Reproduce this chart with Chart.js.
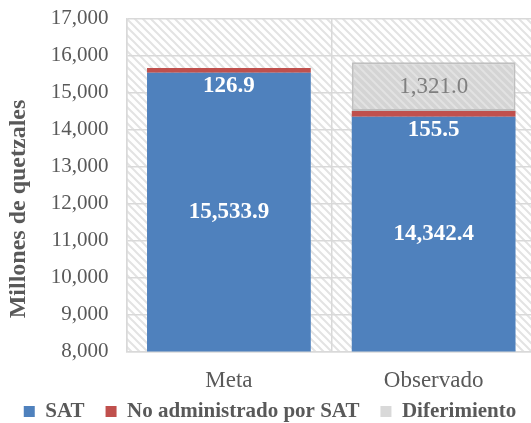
<!DOCTYPE html>
<html>
<head>
<meta charset="utf-8">
<script src="https://cdn.jsdelivr.net/npm/chart.js@4.4.1/dist/chart.umd.min.js"></script>
<style>
    html, body { margin: 0; padding: 0; overflow: hidden; background: #fff; }
    #wrap { position: absolute; left: 0; top: -12px; width: 536px; height: 444px; }
</style>
</head>
<body>
<div id="wrap"><canvas id="chart"></canvas></div>
<script>
const categories = ["Meta", "Observado"];
const satValues = [15533.9, 14342.4];
const noAdminValues = [126.9, 155.5];
const diferimientoValues = [null, 1321.0];
const seriesNames = ["SAT", "No administrado por SAT", "Diferimiento"];
const yMin = 8000;
const yMax = 17000;
const yStep = 1000;

const serif = "'Liberation Serif', 'Times New Roman', serif";
const textGray = '#595959';
const gridGray = '#d9d9d9';

function makeHatch(bg, line) {
    const c = document.createElement('canvas');
    c.width = 8;
    c.height = 8;
    const g = c.getContext('2d');
    g.fillStyle = bg;
    g.fillRect(0, 0, 8, 8);
    g.strokeStyle = line;
    g.lineWidth = 2;
    g.beginPath();
    g.moveTo(-2, -2); g.lineTo(10, 10);
    g.moveTo(-2, 6); g.lineTo(2, 10);
    g.moveTo(6, -2); g.lineTo(10, 2);
    g.stroke();
    return document.getElementById('chart').getContext('2d').createPattern(c, 'repeat');
}

const plotHatch = makeHatch('#ffffff', '#e3e3e3');
const diffHatch = makeHatch('#d4d4d4', '#e2e2e2');

function fmt1(v) {
    return v.toLocaleString('en-US', { minimumFractionDigits: 1, maximumFractionDigits: 1 });
}

// hatched plot background, drawn before the grid
const plotBackground = {
    id: 'plotBackground',
    beforeDraw(chart) {
        const { ctx, chartArea } = chart;
        ctx.save();
        ctx.fillStyle = '#fff';
        ctx.fillRect(0, 0, chart.width, chart.height);
        ctx.fillStyle = plotHatch;
        ctx.fillRect(chartArea.left, chartArea.top, chartArea.right - chartArea.left, chartArea.bottom - chartArea.top);
        ctx.restore();
    }
};

// value labels inside the bars
const barLabels = {
    id: 'barLabels',
    afterDatasetsDraw(chart) {
        const { ctx, chartArea } = chart;
        ctx.save();
        ctx.textAlign = 'center';
        ctx.textBaseline = 'middle';
        chart.data.datasets.forEach((ds, i) => {
            const meta = chart.getDatasetMeta(i);
            meta.data.forEach((bar, j) => {
                const v = ds.data[j];
                if (v == null) return;
                let y;
                if (i === 0) {
                    y = (Math.min(bar.base, chartArea.bottom) + bar.y) / 2;
                } else if (i === 1) {
                    y = bar.base + 13;
                } else {
                    y = (bar.base + bar.y) / 2;
                }
                ctx.font = i === 2 ? `23px ${serif}` : `bold 23px ${serif}`;
                ctx.fillStyle = i === 2 ? '#7f7f7f' : '#ffffff';
                ctx.fillText(fmt1(v), bar.x, y);
            });
        });
        ctx.restore();
    }
};

new Chart(document.getElementById('chart'), {
    type: 'bar',
    data: {
        labels: categories,
        datasets: [
            {
                label: seriesNames[0],
                data: satValues,
                backgroundColor: '#4f81bd',
                clip: 0
            },
            {
                label: seriesNames[1],
                data: noAdminValues,
                backgroundColor: '#c0504d'
            },
            {
                label: seriesNames[2],
                data: diferimientoValues,
                backgroundColor: diffHatch,
                borderColor: '#bfbfbf',
                borderWidth: 2,
                borderSkipped: false
            }
        ]
    },
    options: {
        responsive: true,
        maintainAspectRatio: false,
        animation: false,
        categoryPercentage: 1,
        barPercentage: 0.8,
        layout: { padding: { top: 0, left: 4, right: 0, bottom: 0 } },
        scales: {
            x: {
                stacked: true,
                grid: { offset: true, color: gridGray, lineWidth: 1.5, drawTicks: false },
                border: { color: gridGray, width: 1.5 },
                ticks: { color: textGray, font: { family: serif, size: 23 }, padding: 16 },
                afterFit(scale) {
                    // pull the axis closer to the legend, as in the original
                    scale.height -= 10;
                }
            },
            y: {
                stacked: true,
                min: yMin,
                max: yMax,
                grid: { color: gridGray, lineWidth: 1.5, drawTicks: false },
                border: { color: gridGray, width: 1.5 },
                ticks: {
                    stepSize: yStep,
                    color: textGray,
                    font: { family: serif, size: 21 },
                    padding: 18,
                    callback: v => v.toLocaleString('en-US')
                },
                title: {
                    display: true,
                    // trailing spaces push the visible title a bit lower, like the original
                    text: 'Millones de quetzales        ',
                    color: textGray,
                    font: { family: serif, size: 24, weight: 'bold' },
                    padding: { top: 0, bottom: 0 }
                }
            }
        },
        plugins: {
            tooltip: { enabled: false },
            legend: {
                position: 'bottom',
                labels: {
                    color: textGray,
                    font: { family: serif, size: 21, weight: 'bold' },
                    boxWidth: 11,
                    boxHeight: 11,
                    padding: 0,
                    generateLabels(chart) {
                        const items = Chart.defaults.plugins.legend.labels.generateLabels(chart);
                        const solid = ['#4f81bd', '#c0504d', '#d9d9d9'];
                        items.forEach((it, k) => {
                            it.fillStyle = solid[k];
                            it.strokeStyle = solid[k];
                            it.lineWidth = 0;
                            if (k < items.length - 1) it.text = it.text + '    ';
                        });
                        return items;
                    }
                }
            }
        }
    },
    plugins: [plotBackground, barLabels]
});
</script>
</body>
</html>
